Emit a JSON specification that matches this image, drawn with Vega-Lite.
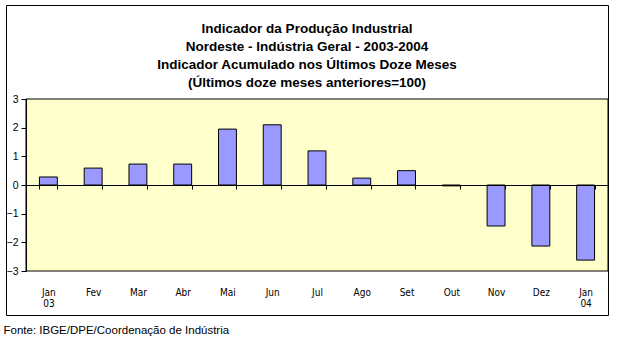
{
  "$schema": "https://vega.github.io/schema/vega-lite/v6.json",
  "width": 602,
  "height": 310,
  "autosize": {"type": "none"},
  "padding": {"left": 6, "top": 5, "right": 10, "bottom": 38},
  "background": "white",
  "config": {"view": {"stroke": "black", "strokeWidth": 1, "fill": "white"}},
  "title": {
    "text": ["Indicador da Produção Industrial", "Nordeste - Indústria Geral - 2003-2004", "Indicador Acumulado nos Últimos Doze Meses", "(Últimos doze meses anteriores=100)"],
    "font": "Liberation Sans",
    "fontSize": 13.5,
    "fontWeight": "bold",
    "color": "black",
    "anchor": "middle",
    "baseline": "bottom",
    "lineHeight": 18.3,
    "offset": 0,
    "dy": 99
  },
  "data": {"values": [
    {"mes": "Jan 03", "valor": 0.28},
    {"mes": "Fev", "valor": 0.59},
    {"mes": "Mar", "valor": 0.73},
    {"mes": "Abr", "valor": 0.73},
    {"mes": "Mai", "valor": 1.95},
    {"mes": "Jun", "valor": 2.10},
    {"mes": "Jul", "valor": 1.19},
    {"mes": "Ago", "valor": 0.24},
    {"mes": "Set", "valor": 0.50},
    {"mes": "Out", "valor": -0.03},
    {"mes": "Nov", "valor": -1.43},
    {"mes": "Dez", "valor": -2.13},
    {"mes": "Jan 04", "valor": -2.62}
  ]},
  "layer": [
    {
      "data": {"values": [{"painel": "area"}]},
      "mark": {"type": "rect", "fill": "#FFFFCC", "stroke": "black", "strokeWidth": 1},
      "encoding": {
        "x": {"datum": 0, "type": "quantitative", "scale": {"domain": [0, 1], "range": [20, 602], "nice": false, "zero": false}, "axis": null},
        "x2": {"datum": 1},
        "y": {"datum": -3, "type": "quantitative", "scale": {"domain": [-3, 3], "range": [266, 94], "nice": false},
          "axis": {"orient": "left", "offset": -20, "zindex": 1, "values": [-3, -2, -1, 0, 1, 2, 3], "domainColor": "black", "tickColor": "black", "tickSize": 5, "labelPadding": 3, "labelFont": "Liberation Sans", "labelFontSize": 10.5, "labelColor": "black", "grid": false, "title": null}},
        "y2": {"datum": 3}
      }
    },
    {
      "mark": {"type": "bar", "fill": "#9999FF", "stroke": "black", "strokeWidth": 1},
      "encoding": {
        "x": {"field": "mes", "type": "nominal", "sort": null,
          "scale": {"range": [20, 602], "paddingInner": 0.6, "paddingOuter": 0.3},
          "axis": {"orient": "bottom", "offset": -130, "zindex": 1, "domainColor": "black", "tickColor": "black", "tickSize": 4, "tickBand": "extent", "labelPadding": 98, "labelExpr": "split(datum.label, ' ')", "labelFont": "Liberation Sans Narrow, DejaVu Sans Condensed, sans-serif", "labelFontSize": 10, "labelColor": "black", "labelLineHeight": 11, "labelBaseline": "top", "labelAngle": 0, "labelOverlap": false, "labelFlush": false,
            "title": "Fonte: IBGE/DPE/Coordenação de Indústria", "titleX": -3, "titleY": 145, "titleAlign": "left", "titleAnchor": "start", "titleBaseline": "middle", "titleFont": "Liberation Sans", "titleFontSize": 11.5, "titleFontWeight": "normal", "titleColor": "black"}},
        "y": {"field": "valor", "type": "quantitative", "scale": {"domain": [-3, 3], "range": [266, 94], "nice": false},
          "axis": {"orient": "left", "offset": -20, "zindex": 1, "values": [-3, -2, -1, 0, 1, 2, 3], "domainColor": "black", "tickColor": "black", "tickSize": 5, "labelPadding": 3, "labelFont": "Liberation Sans", "labelFontSize": 10.5, "labelColor": "black", "grid": false, "title": null}}
      }
    }
  ],
  "resolve": {"scale": {"x": "independent"}, "axis": {"x": "independent"}}
}
